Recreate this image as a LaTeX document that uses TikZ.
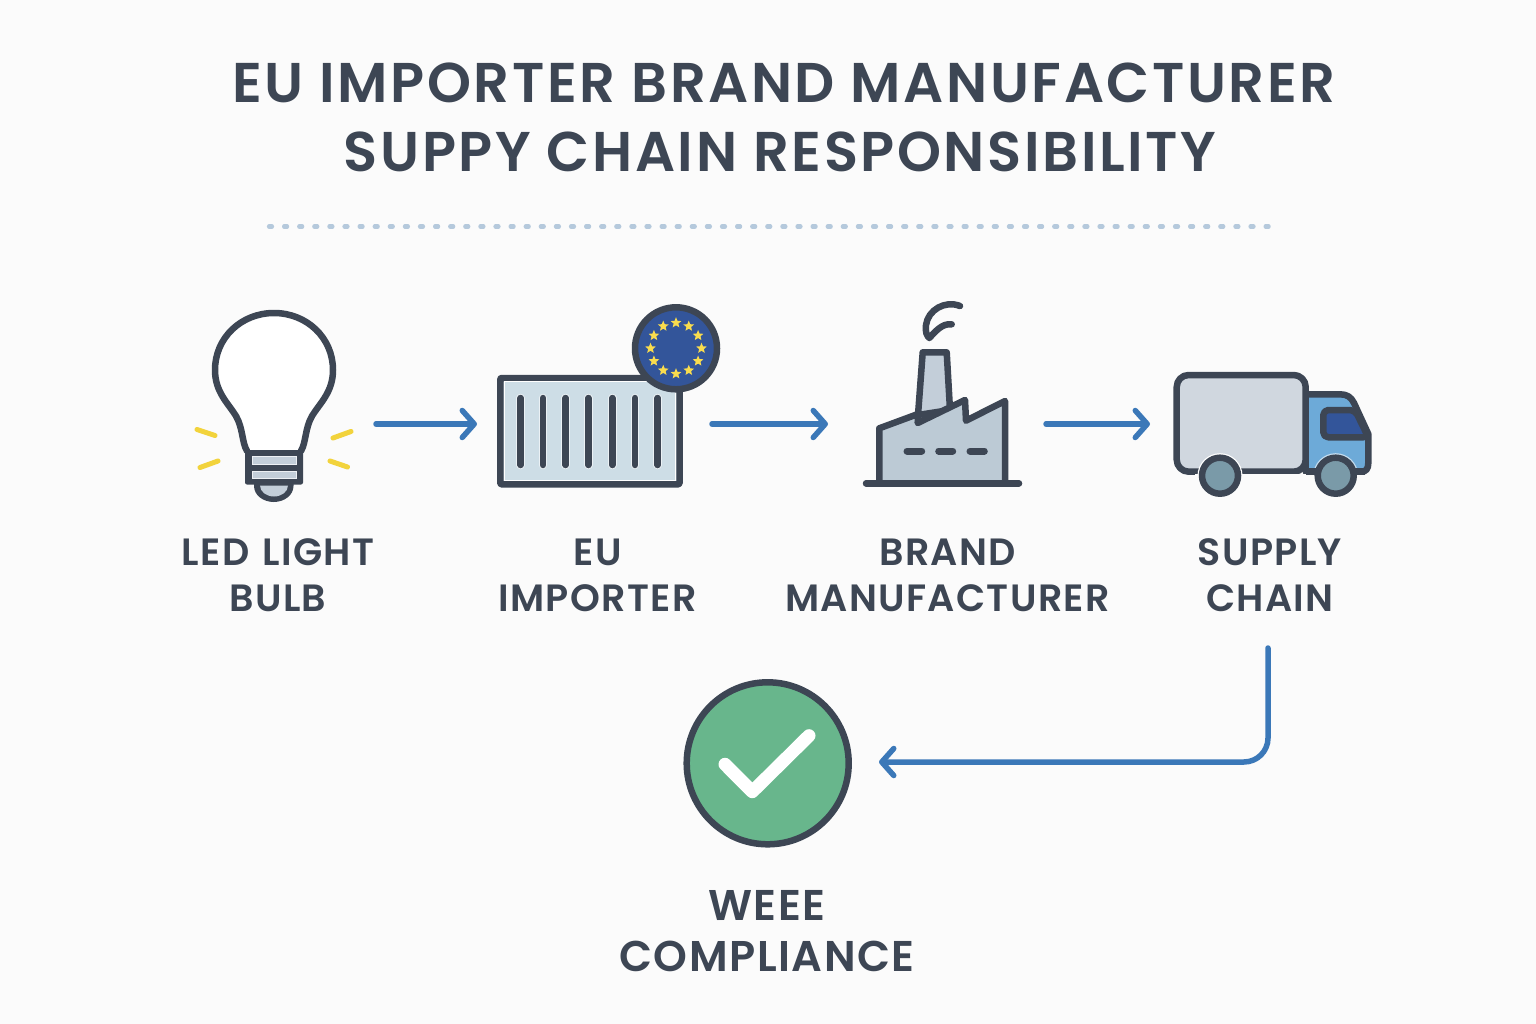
\documentclass[tikz,border=0pt]{standalone}
\usepackage{fontspec}
\newfontfamily\titlefont{Poppins SemiBold}[LetterSpace=4.6]
\newfontfamily\labelfont{Poppins SemiBold}[LetterSpace=3.5]
\usetikzlibrary{arrows.meta}
\definecolor{ink}{HTML}{3D4654}
\definecolor{pagebg}{HTML}{FBFBFB}
\definecolor{flow}{HTML}{3B78B8}
\definecolor{dots}{HTML}{B5C9DC}
\definecolor{ray}{HTML}{F2D33C}
\definecolor{steel}{HTML}{C3CED9}
\definecolor{boxblue}{HTML}{CDDDE6}
\definecolor{eublue}{HTML}{33559A}
\definecolor{eustar}{HTML}{F9DC4E}
\definecolor{factoryfill}{HTML}{BCCAD5}
\definecolor{truckgrey}{HTML}{D0D7DF}
\definecolor{cabblue}{HTML}{6DAAD8}
\definecolor{wheelfill}{HTML}{7A9AA8}
\definecolor{okgreen}{HTML}{68B68C}
\tikzset{
  icon/.style={draw=ink,line width=6.5pt,line join=round,line cap=round},
  anchorbox/.style={inner sep=0pt,outer sep=0pt,minimum height=180pt},
  flowline/.style={draw=flow,line width=5.5pt,line cap=round,-{Straight Barb[length=12pt,width=27pt,round]}},
  raystroke/.style={draw=ray,line width=5pt,line cap=round},
  titletext/.style={text=ink,font=\titlefont\fontsize{56}{69}\selectfont,align=center},
  labeltext/.style={text=ink,font=\labelfont\fontsize{38}{46}\selectfont,align=center},
  bigtext/.style={text=ink,font=\labelfont\fontsize{43}{51}\selectfont,align=center}
}
\begin{document}
\begin{tikzpicture}[x=1pt,y=-1pt]
\useasboundingbox (0,0) rectangle (1536,1024);
\fill[pagebg] (0,0) rectangle (1536,1024);
% title
\node[titletext] (title) at (784,117) {EU IMPORTER BRAND MANUFACTURER\\SUPPY CHAIN RESPONSIBILITY\hspace*{8pt}};
\draw[dots,line width=4.2pt,line cap=round,dash pattern=on 3pt off 12.1pt] (269,226.5) -- (1269,226.5);
% connector anchors
\node[anchorbox,minimum width=181pt] (bulb) at (285.5,424) {};
\node[anchorbox,minimum width=235pt] (container) at (594.5,424) {};
\node[anchorbox,minimum width=218pt] (factory) at (937,424) {};
\node[anchorbox,minimum width=223pt] (truck) at (1261.5,424) {};
\node[anchorbox,minimum width=222pt] (check) at (768,762) {};
% bulb
\path[icon,fill=white] (247,451) .. controls (242,443) and (243,428) .. (236,416) .. controls (228,403) and (215,392) .. (215,370) .. controls (215,338) and (241,313) .. (274,313) .. controls (307,313) and (333,338) .. (333,370) .. controls (333,392) and (320,403) .. (312,416) .. controls (305,428) and (306,443) .. (301,451);
\fill[ink,rounded corners=2pt] (245,450) rectangle (303,484.5);
\fill[ink] (254,482) -- (293.5,482) -- (293.5,486) arc (0:180:19.75 and 16) -- cycle;
\fill[steel,draw=white!70!steel,line width=.8pt] (252,456) rectangle (296.5,464);
\fill[steel,draw=white!70!steel,line width=.8pt] (252,471) rectangle (296.5,478.5);
\fill[steel] (260,485.5) -- (288,485.5) arc (0:180:14 and 11) -- cycle;
\draw[raystroke] (197,429.5) -- (215,435.5);
\draw[raystroke] (200,467.5) -- (218,461);
\draw[raystroke] (333,438) -- (351,431.5);
\draw[raystroke] (330,461) -- (347.5,467);
% container
\path[icon,fill=boxblue,rounded corners=1pt] (500.3,378) rectangle (679.5,484.3);
\draw[white,line width=1pt] (504,381.7) rectangle (675.8,480.6);
\foreach \x in {520.7,543,565.7,588.3,612.3,635,657.7}{
  \draw[white!60!boxblue,line width=8.5pt,line cap=round] (\x,398) -- (\x,465);
  \draw[ink,line width=6.5pt,line cap=round] (\x,398) -- (\x,465);
}
\path[icon,fill=eublue] (676,348.3) circle (41);
\begin{scope}[shift={(676,348.3)}]
\foreach \a in {0,30,...,330}{
  \begin{scope}[shift={(\a:25.5)}]
  \fill[eustar] (-90:5.6) -- (-54:2.5) -- (-18:5.6) -- (18:2.5) -- (54:5.6) -- (90:2.5) -- (126:5.6) -- (162:2.5) -- (198:5.6) -- (234:2.5) -- cycle;
  \end{scope}
}
\end{scope}
% factory
\path[icon,fill=steel] (918,415) -- (922.7,352.3) -- (946.7,352.3) -- (950,410) -- cycle;
\path[icon,fill=factoryfill] (879.3,483) -- (879.3,428.3) -- (918,414) -- (917.7,423) -- (965,400) -- (966,420.7) -- (1005,401) -- (1005,483);
\draw[icon] (866,483.3) -- (1019,483.3);
\draw[icon,line width=7pt] (907,451) -- (921.7,451);
\draw[icon,line width=7pt] (938.7,451) -- (952.7,451);
\draw[icon,line width=7pt] (970,451) -- (984.3,451);
\draw[icon] (960,306) .. controls (945,300) and (928,310) .. (926,325) .. controls (925,332) and (927,336) .. (929.3,338) .. controls (935,332) and (942,323) .. (951.7,324.3);
% truck
\path[icon,fill=cabblue] (1305.7,394.3) -- (1340,394.3) .. controls (1347,394.3) and (1351,397) .. (1354,403) -- (1368.3,434) -- (1368.3,463) .. controls (1368.3,469) and (1366,471.7) .. (1361,471.7) -- (1305.7,471.7) -- cycle;
\path[icon,fill=truckgrey,rounded corners=12pt] (1176.7,375) rectangle (1305.7,471.7);
\path[icon,fill=eublue,rounded corners=5pt] (1323.3,410) -- (1355,410) -- (1368.3,437.3) -- (1323.3,437.3) -- cycle;
\fill[white] (1220,475.7) circle (22.5);
\fill[cabblue!40!white] (1335.7,475.7) circle (22.5);
\fill[pagebg] (1195,473.5) rectangle (1365,500);
\draw[ink,line width=6.5pt] (1306,471.7) -- (1365,471.7);
\path[icon,fill=wheelfill] (1220,475.7) circle (18);
\path[icon,fill=wheelfill] (1335.7,475.7) circle (18);
% check
\path[icon,fill=okgreen] (767.7,763.3) circle (81);
\draw[white,line width=13pt,line cap=round,line join=round] (725,764.3) -- (752.3,791.7) -- (809,735.7);
% labels
\node[labeltext] (l1) at (278,575) {LED\hspace{3pt} LIGHT\\BULB};
\node[labeltext] (l2) at (597.5,575) {EU\\IMPORTER};
\node[labeltext] (l3) at (947.5,575) {BRAND\\MANUFACTURER};
\node[labeltext] (l4) at (1270,575) {SUPPLY\\CHAIN};
\node[bigtext] (l5) at (767,931) {WEEE\\COMPLIANCE};
% connectors
\coordinate (down) at (1268,648);
\draw[flowline] (bulb.east) -- (container.west);
\draw[flowline] (container.east) -- (factory.west);
\draw[flowline] (factory.east) -- (truck.west);
\draw[flowline,rounded corners=24pt] (down) |- (check.east);
\end{tikzpicture}
\end{document}
